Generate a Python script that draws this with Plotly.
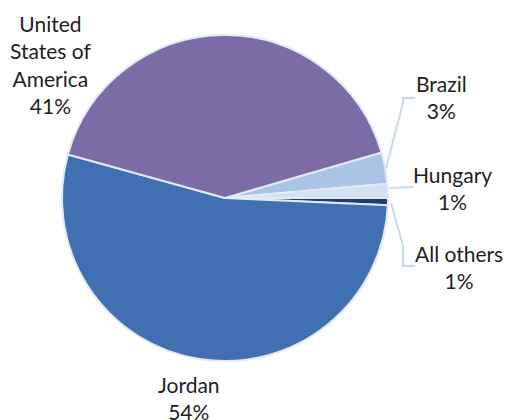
import plotly.graph_objects as go

W, H = 505, 420

# Data
countries = ["Brazil", "Hungary", "All others", "Jordan", "United States of America"]
label_text = ["Brazil", "Hungary", "All others", "Jordan", "United<br>States of<br>America"]
values = [3.1, 1.4, 0.7, 53.6, 41.2]
colors = ["#A9C4E6", "#D3E0F1", "#1F3B70", "#4170B2", "#7B6BA6"]

total = sum(values)
pcts = [f"{round(v / total * 100)}%" for v in values]

def px(x):
    return x / W

def py(y):
    return 1 - y / H

cx, cy, r = 225, 198, 163

fig = go.Figure(go.Pie(
    labels=countries,
    values=values,
    sort=False,
    direction="clockwise",
    rotation=73.8,
    marker=dict(colors=colors, line=dict(color="#E2EAF5", width=2)),
    textinfo="none",
    hoverinfo="label+percent",
    showlegend=False,
    domain=dict(x=[px(cx - r), px(cx + r)], y=[py(cy + r), py(cy - r)]),
))

# label positions (pixel centres in the screenshot)
label_pos = {
    "Brazil": (441, 97),
    "Hungary": (452, 188),
    "All others": (459, 267),
    "Jordan": (189, 398),
    "United States of America": (50, 64),
}

annotations = []
for name, lt, pc in zip(countries, label_text, pcts):
    x, y = label_pos[name]
    annotations.append(dict(
        x=px(x), y=py(y), xref="paper", yref="paper",
        text=f"{lt}<br>{pc}", showarrow=False,
        xanchor="center", yanchor="middle", align="center",
        font=dict(family="Lato", size=21, color="#1E1E1E"),
    ))

leaders = [
    [(386, 168), (403, 103), (403, 98), (415, 98)],
    [(390, 188), (413, 187)],
    [(391, 203), (403, 246), (403, 266), (415, 266)],
]
shapes = []
for pts in leaders:
    path = "M " + " L ".join(f"{px(x):.5f},{py(y):.5f}" for x, y in pts)
    shapes.append(dict(type="path", path=path, xref="paper", yref="paper",
                       line=dict(color="#C7DAF0", width=2)))

fig.update_layout(
    width=W, height=H,
    margin=dict(l=0, r=0, t=0, b=0),
    paper_bgcolor="white", plot_bgcolor="white",
    annotations=annotations, shapes=shapes,
)

fig.write_html(
    "out.html",
    config={"displayModeBar": False},
    post_script="document.body.style.margin='0';document.body.style.overflow='hidden';",
)
